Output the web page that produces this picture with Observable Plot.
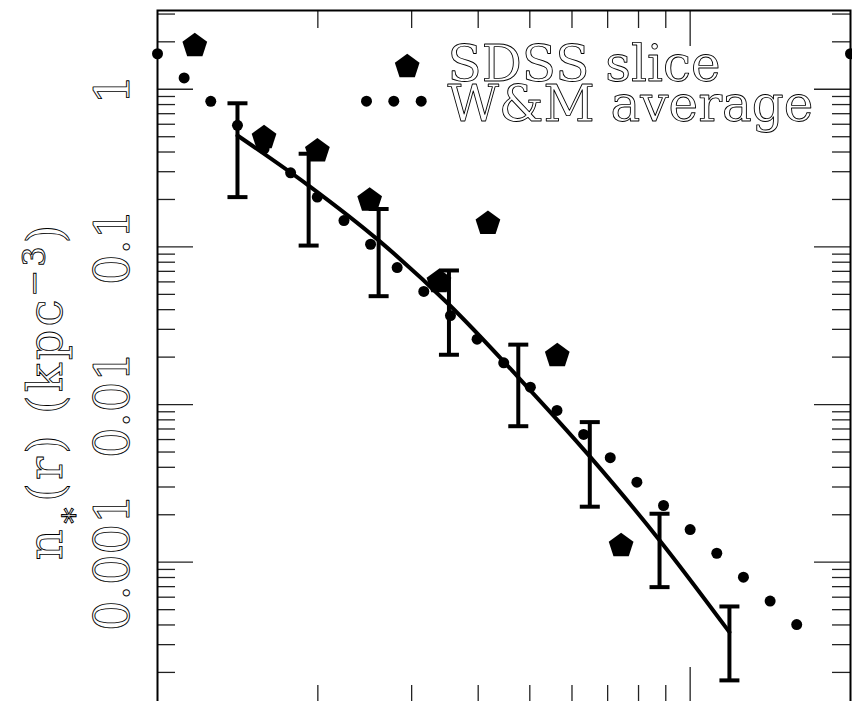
<!DOCTYPE html>
<html><head><meta charset="utf-8">
<script src="https://cdn.jsdelivr.net/npm/d3@7"></script>
<script src="https://cdn.jsdelivr.net/npm/@observablehq/plot@0.6"></script>
<style>html,body{margin:0;padding:0;background:#fff;overflow:hidden;} svg text{-webkit-font-smoothing:antialiased;}</style>
</head><body><div id="chart"></div>
<script>
// W&M average (small dots)
const wmR = [10, 11.22, 12.59, 14.13, 15.85, 17.78, 19.95, 22.39, 25.12, 28.18, 31.62, 35.48, 39.81, 44.67, 50.12, 56.23, 63.10, 70.79, 79.43, 89.13, 100, 112.2, 125.9, 141.3, 158.5, 200];
const wmN = [1.68, 1.18, 0.839, 0.591, 0.419, 0.295, 0.207, 0.147, 0.104, 0.0740, 0.0522, 0.0367, 0.0260, 0.0184, 0.0129, 0.00918, 0.00646, 0.00460, 0.00322, 0.00229, 0.00161, 0.00114, 0.000804, 0.000567, 0.000402, 1.68];
// SDSS slice (pentagons)
const sdssR = [11.75, 15.85, 19.96, 25.02, 33.76, 41.72, 56.3, 74.2];
const sdssN = [1.887, 0.493, 0.406, 0.198, 0.0602, 0.141, 0.0204, 0.00127];
// binned values with error bars and the connecting line
const binR  = [14.13, 19.22, 26.01, 35.25, 47.57, 64.8, 87.6, 118.5];
const binN  = [0.509, 0.245, 0.110, 0.0431, 0.0149, 0.00469, 0.00138, 0.000360];
const binHi = [0.815, 0.390, 0.174, 0.0709, 0.0240, 0.00774, 0.00203, 0.000524];
const binLo = [0.207, 0.102, 0.0487, 0.0207, 0.00729, 0.00225, 0.000695, 0.000178];
// axes
const yLabelTicks = [1, 0.1, 0.01, 0.001];
const yTickLabels = ["1", "0.1", "0.01", "0.001"];
const yMinorTicks = [0.0002,0.0003,0.0004,0.0005,0.0006,0.0007,0.0008,0.0009,
  0.002,0.003,0.004,0.005,0.006,0.007,0.008,0.009,
  0.02,0.03,0.04,0.05,0.06,0.07,0.08,0.09,
  0.2,0.3,0.4,0.5,0.6,0.7,0.8,0.9, 2, 3];
const xMajorTicks = [100];
const xMinorTicks = [20, 30, 40, 50, 60, 70, 80, 90];
const legendLabels = ["SDSS slice", "W&M average"];
const yTitle = ["n", "∗", "(r) (kpc", "−3", ")"];

const wm = wmR.map((r, i) => ({r, n: wmN[i]}));
const sdss = sdssR.map((r, i) => ({r, n: sdssN[i]}));
const bins = binR.map((r, i) => ({r, n: binN[i], lo: binLo[i], hi: binHi[i]}));

const pentagon = {draw(ctx, size) {
  const R = Math.sqrt(size / Math.PI);
  for (let k = 0; k < 5; k++) {
    const a = -Math.PI / 2 + k * 2 * Math.PI / 5;
    const px = R * Math.cos(a), py = R * Math.sin(a);
    if (k) ctx.lineTo(px, py); else ctx.moveTo(px, py);
  }
  ctx.closePath();
}};
const hbar = {draw(ctx, size) {
  const R = Math.sqrt(size / Math.PI);
  ctx.moveTo(-R, 0); ctx.lineTo(R, 0);
}};

const W = 852, ML = 157, MR = 2, MT = 10, MB = 40, H = 743;
const PW = W - ML - MR, PH = H - MT - MB;
const font = "DejaVu Serif";
const tickStyle = {stroke: "#222", strokeWidth: 1.3};
const textStyle = {fontFamily: font, fill: "white", stroke: "black", strokeWidth: 0.9, paintOrder: "fill", opacity: 0.999};

const chart = Plot.plot({
  width: W, height: H,
  marginLeft: ML, marginRight: MR, marginTop: MT, marginBottom: MB,
  x: {type: "log", domain: [10, 200], axis: null},
  y: {type: "log", domain: [1.27e-4, 3.16], axis: null},
  marks: [
    // ticks, inside the frame
    Plot.tickY(yLabelTicks, {y: d => d, insetRight: PW - 36, ...tickStyle}),
    Plot.tickY(yMinorTicks, {y: d => d, insetRight: PW - 18, ...tickStyle}),
    Plot.tickY(yLabelTicks, {y: d => d, insetLeft: PW - 36, ...tickStyle}),
    Plot.tickY(yMinorTicks, {y: d => d, insetLeft: PW - 18, ...tickStyle}),
    Plot.tickX(xMajorTicks, {x: d => d, insetTop: PH - 36, ...tickStyle}),
    Plot.tickX(xMinorTicks, {x: d => d, insetTop: PH - 18, ...tickStyle}),
    Plot.tickX(xMajorTicks, {x: d => d, insetBottom: PH - 36, ...tickStyle}),
    Plot.tickX(xMinorTicks, {x: d => d, insetBottom: PH - 18, ...tickStyle}),
    Plot.frame({stroke: "black", strokeWidth: 2}),
    // y tick labels
    Plot.text(yLabelTicks, {y: d => d, text: (d, i) => yTickLabels[i], frameAnchor: "left", dx: -29,
      rotate: -90, textAnchor: "middle", lineAnchor: "bottom", fontSize: 48, ...textStyle}),
    // data
    Plot.line(bins, {x: "r", y: "n", stroke: "black", strokeWidth: 4, curve: "monotone-x"}),
    Plot.ruleX(bins, {x: "r", y1: "lo", y2: "hi", stroke: "black", strokeWidth: 4}),
    Plot.dot(bins, {x: "r", y: "hi", symbol: hbar, r: 10, fill: "none", stroke: "black", strokeWidth: 4}),
    Plot.dot(bins, {x: "r", y: "lo", symbol: hbar, r: 10, fill: "none", stroke: "black", strokeWidth: 4}),
    Plot.dot(wm, {x: "r", y: "n", r: 5.5, fill: "black"}),
    Plot.dot(sdss, {x: "r", y: "n", symbol: pentagon, r: 13, fill: "black"}),
    // legend
    Plot.dot([legendLabels[0]], {frameAnchor: "top-left", dx: 249.7, dy: 56.2, symbol: pentagon, r: 13, fill: "black"}),
    Plot.dot([legendLabels[1]], {frameAnchor: "top-left", dx: 209, dy: 90.7, r: 5.5, fill: "black"}),
    Plot.dot([legendLabels[1]], {frameAnchor: "top-left", dx: 236.3, dy: 90.7, r: 5.5, fill: "black"}),
    Plot.dot([legendLabels[1]], {frameAnchor: "top-left", dx: 263.7, dy: 90.7, r: 5.5, fill: "black"}),
    Plot.text([legendLabels[0]], {frameAnchor: "top-left", dx: 290, dy: 70, text: d => d,
      textAnchor: "start", lineAnchor: "bottom", fontSize: 50, letterSpacing: 1.5, ...textStyle}),
    Plot.text([legendLabels[1]], {frameAnchor: "top-left", dx: 290, dy: 110, text: d => d,
      textAnchor: "start", lineAnchor: "bottom", fontSize: 50, ...textStyle})
  ]
});
document.getElementById("chart").appendChild(chart);

// y-axis title with sub/superscripts
const t = d3.select(chart).append("text")
  .attr("transform", "translate(61.7,391) rotate(-90)")
  .attr("text-anchor", "middle")
  .attr("font-family", font).attr("font-size", 48)
  .attr("letter-spacing", 3)
  .attr("fill", "white").attr("stroke", "black").attr("stroke-width", 0.9)
  .attr("paint-order", "fill").attr("opacity", 0.999);
t.append("tspan").text(yTitle[0]);
t.append("tspan").attr("font-size", 32).attr("dy", 17).text(yTitle[1]);
t.append("tspan").attr("dy", -17).text(yTitle[2]);
t.append("tspan").attr("font-size", 32).attr("dy", -17).text(yTitle[3]);
t.append("tspan").attr("dy", 17).text(yTitle[4]);
</script>
</body></html>
